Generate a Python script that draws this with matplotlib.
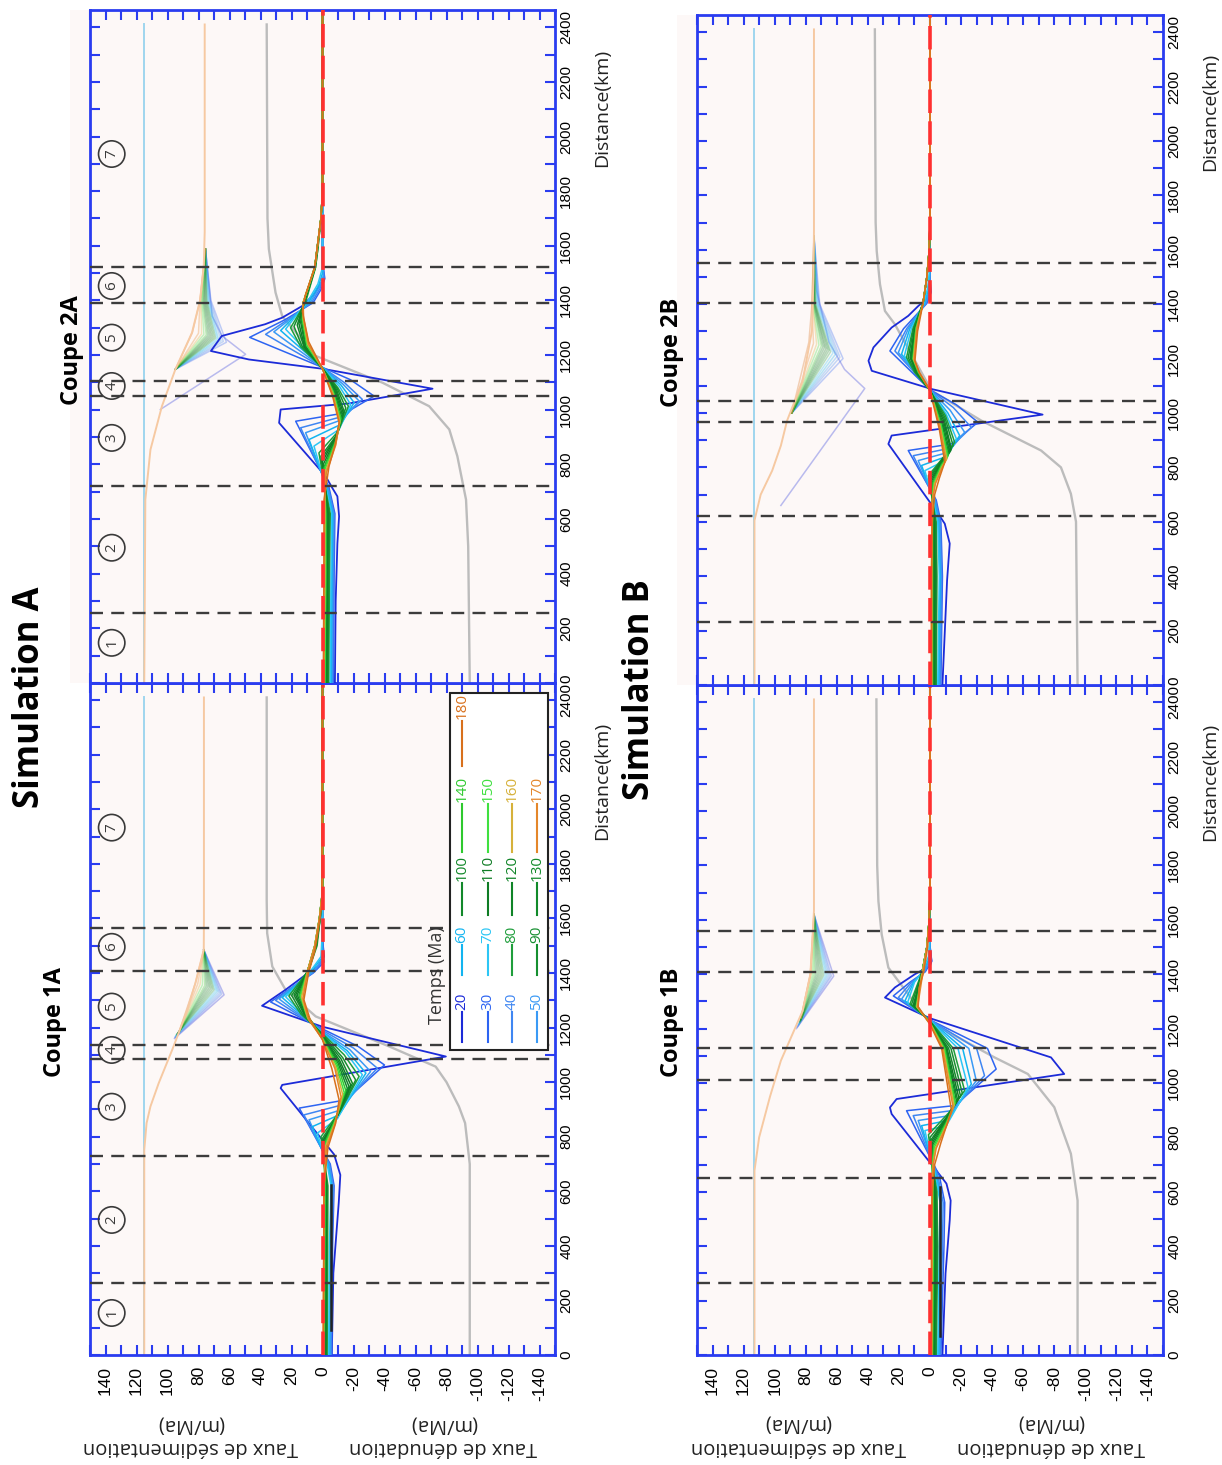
"""
Denudation / sedimentation rate profiles along four cross-sections
(Simulations A and B). Each panel is drawn turned a quarter turn:
distance runs up the page, the rate runs from +150 (left) to -150 (right).
"""
import matplotlib.pyplot as plt
import matplotlib.transforms as mtransforms
from matplotlib.lines import Line2D
from matplotlib.patches import Rectangle

plt.rcParams['font.family'] = ['Open Sans', 'DejaVu Sans']

W, H = 1222, 1465

times = [20, 30, 40, 50, 60, 70, 80, 90, 100, 110, 120, 130, 140, 150, 160, 170, 180]
time_colors = ['#1c2bd8', '#2d64f2', '#3f86f2', '#3a9af5', '#12b4f0', '#2cc6f5',
               '#1f9e3c', '#168f30', '#12882a', '#0e7c24', '#0f8427', '#118a2a',
               '#2ec92e', '#3fe03f', '#d6b13a', '#e4862a', '#d8701c']

# ---------------------------------------------------------------- Coupe 1A
cuts_1A = [264, 730, 1085, 1137, 1408, 1566]
zones_1A = [154, 495, 910, 1118, 1277, 1496, 1933]
sed_line_1A = [(0, 115), (2410, 115)]
peach_1A = [(0, 115), (752, 115), (850, 113.5), (911, 111), (996, 105.7), (1118, 97),
            (1180, 92.8), (1270, 87), (1363, 82), (1485, 76.6), (1600, 76.5), (2410, 76.5)]
gray_1A = [(0, -95), (700, -95), (850, -92), (911, -88), (1000, -80), (1057, -73),
           (1131, -43), (1241, 4.4), (1338, 23.8), (1424, 32.4), (1546, 35.7),
           (1668, 36), (2410, 36)]
black_1A = [(92, -5.3), (623, -5.3)]
fan_1A = [
    [(1160, 95.5), (1320, 63.5), (1485, 76.6)],
    [(1163, 95.2), (1323, 65), (1485, 76.6)],
    [(1165, 95), (1326, 66), (1485, 76.6)],
    [(1167, 94.9), (1329, 67), (1485, 76.6)],
    [(1169, 94.7), (1332, 68), (1485, 76.6)],
    [(1171, 94.5), (1335, 69), (1485, 76.6)],
    [(1173, 94.2), (1338, 70), (1485, 76.6)],
    [(1175, 94), (1341, 71), (1485, 76.6)],
    [(1177, 93.8), (1344, 72), (1485, 76.6)],
    [(1178, 93.5), (1347, 73), (1485, 76.6)],
    [(1180, 93.2), (1350, 74), (1485, 76.6)],
    [(1180, 93), (1352, 75), (1485, 76.6)],
    [(1180, 92.8), (1354, 76), (1485, 76.6)],
    [(1180, 92.8), (1356, 77.5), (1485, 76.6)],
    [(1180, 92.8), (1358, 79), (1485, 76.6)],
    [(1180, 92.8), (1360, 80.5), (1485, 76.6)],
    [(1180, 92.8), (1363, 82), (1485, 76.6)],
]
rates_1A = [
    [(0, -6), (300, -7), (560, -10.5), (660, -11.5), (735, -7.5), (978, 27), (990, 26),
     (1094, -79.6), (1203, 0), (1280, 39), (1338, 24), (1393, 11), (1424, 3), (1460, -1),
     (1520, 0), (2465, 0)],
    [(0, -6), (400, -6.5), (620, -7.5), (700, -5), (905, 15), (935, -15), (1063, -40),
     (1131, -23), (1195, 0), (1294, 33.5), (1350, 19), (1400, 6), (1440, -1), (1520, 0), (2465, 0)],
    [(0, -5.5), (400, -6), (620, -7), (700, -4.5), (880, 12), (917, -12.8), (1051, -35.4),
     (1125, -20), (1190, 0), (1300, 30.3), (1355, 18), (1400, 6.5), (1445, -0.5), (1530, 0), (2465, 0)],
    [(0, -5), (400, -5.5), (620, -6.5), (700, -4), (862, 8.7), (898, -11.7), (1039, -31),
     (1120, -17.5), (1185, 0), (1305, 28), (1358, 17), (1400, 7), (1450, 0), (1540, 0), (2465, 0)],
    [(0, -4.5), (400, -5), (620, -6), (700, -3.5), (837, 6.6), (880, -10.7), (1033, -28),
     (1115, -16), (1182, 0), (1310, 26), (1360, 16), (1405, 7.5), (1455, 0.5), (1550, 0), (2465, 0)],
    [(0, -4), (400, -4.5), (620, -5.5), (700, -3), (813, 3.4), (866, -9.6), (1027, -25.7),
     (1110, -15), (1180, 0), (1313, 23.8), (1362, 15), (1405, 8), (1460, 1), (1560, 0), (2465, 0)],
    [(0, -3), (620, -3.5), (800, 1), (900, -12), (1021, -23.6), (1100, -14), (1178, 0),
     (1250, 14), (1316, 21.7), (1410, 9), (1500, 3.5), (1600, 1.5), (1700, 0), (2465, 0)],
    [(0, -2.5), (620, -3), (790, 0.5), (890, -11), (1008, -21.4), (1090, -13), (1175, 0),
     (1250, 13), (1318, 19.9), (1410, 9), (1500, 4), (1600, 1.5), (1700, 0), (2465, 0)],
    [(0, -2), (620, -2.5), (785, 0), (880, -10), (996, -19.3), (1085, -12), (1172, 0),
     (1250, 12), (1320, 18.4), (1410, 9), (1500, 4), (1600, 1.5), (1700, 0), (2465, 0)],
    [(0, -2), (620, -2.5), (780, 0), (875, -9.5), (990, -18.2), (1080, -11), (1170, 0),
     (1250, 11.5), (1320, 17.3), (1410, 9.5), (1500, 4.5), (1600, 2), (1700, 0), (2465, 0)],
    [(0, -1.5), (620, -2), (775, -0.5), (870, -9), (984, -17.1), (1075, -10.5), (1168, 0),
     (1250, 11), (1320, 16.3), (1410, 9.5), (1500, 4.5), (1600, 2), (1700, 0), (2465, 0)],
    [(0, -1.5), (620, -2), (770, -0.5), (865, -8.5), (978, -16), (1070, -10), (1165, 0),
     (1250, 10.5), (1320, 15.2), (1410, 9.5), (1500, 5), (1600, 2), (1700, 0), (2465, 0)],
    [(0, -1), (620, -1.5), (770, -1), (860, -8), (970, -15), (1065, -9.5), (1163, 0),
     (1245, 10), (1318, 14.7), (1410, 9.5), (1500, 5), (1600, 2), (1700, 0), (2465, 0)],
    [(0, -1), (620, -1.5), (765, -1.5), (855, -8), (962, -14), (1060, -9), (1160, 0),
     (1240, 10), (1315, 14.1), (1410, 9.5), (1500, 5), (1600, 2), (1700, 0), (2465, 0)],
    [(0, -0.5), (620, -1), (765, -2), (850, -8), (955, -13), (1055, -8.5), (1158, 0),
     (1235, 9.5), (1312, 13.5), (1410, 9.5), (1500, 5), (1600, 2), (1700, 0), (2465, 0)],
    [(0, -0.5), (620, -1), (760, -2.5), (845, -8), (945, -12), (1050, -8), (1157, 0),
     (1230, 9), (1308, 12.6), (1410, 9.5), (1500, 5), (1600, 2), (1700, 0), (2465, 0)],
    [(0, -0.5), (620, -1), (760, -3.5), (850, -8.5), (935, -10.7), (1050, -6), (1155, 0),
     (1230, 8), (1302, 12), (1400, 9), (1480, 5), (1547, 3), (1650, 0.5), (2465, 0)],
]

# ---------------------------------------------------------------- Coupe 2A
cuts_2A = [257, 720, 1052, 1105, 1392, 1521]
zones_2A = [147, 495, 897, 1087, 1264, 1453, 1936]
sed_line_2A = [(0, 115), (2410, 115)]
peach_2A = [(0, 115), (671, 114.3), (854, 111), (1013, 103.6), (1148, 94.9), (1282, 84.2),
            (1400, 79), (1527, 76.6), (1650, 76), (2410, 76)]
gray_2A = [(0, -95), (500, -94), (671, -92.6), (830, -87), (928, -81.8), (1013, -68.8),
           (1099, -38.7), (1197, 4.4), (1343, 26), (1429, 30.3), (1588, 34.6),
           (1700, 35.5), (2410, 36)]
black_2A = []
fan_2A = [
    [(1001, 104.6), (1203, 49.6), (1270, 64.8), (1343, 71.2), (1588, 75.5)],
    [(1148, 94.9), (1247, 62), (1400, 72), (1588, 75.5)],
    [(1148, 94.9), (1250, 64), (1400, 72.5), (1588, 75.5)],
    [(1148, 94.9), (1253, 65.5), (1400, 73), (1588, 75.5)],
    [(1148, 94.9), (1256, 67), (1400, 73.5), (1588, 75.5)],
    [(1148, 94.9), (1259, 68), (1400, 74), (1588, 75.5)],
    [(1148, 94.9), (1262, 69), (1400, 74.5), (1588, 75.5)],
    [(1148, 94.9), (1264, 70), (1400, 75), (1588, 75.5)],
    [(1148, 94.9), (1266, 71), (1400, 75.5), (1588, 75.5)],
    [(1148, 94.9), (1268, 72), (1400, 76), (1588, 75.5)],
    [(1148, 94.9), (1270, 73), (1400, 76.5), (1588, 75.5)],
    [(1148, 94.9), (1272, 74), (1400, 77), (1588, 75.5)],
    [(1148, 94.9), (1274, 75), (1400, 77.5), (1588, 75.5)],
    [(1148, 94.9), (1276, 76.5), (1400, 78), (1588, 75.5)],
    [(1148, 94.9), (1278, 78), (1400, 78.5), (1588, 75.5)],
    [(1148, 94.9), (1280, 80), (1400, 79), (1588, 75.5)],
    [(1148, 94.9), (1282, 84), (1400, 79), (1588, 75.5)],
]
rates_2A = [
    [(0, -8), (300, -8.5), (510, -9.6), (610, -10.7), (683, -9.6), (714, -6.3), (757, -2),
     (952, 28), (1001, 27), (1023, -17), (1077, -71), (1150, 0), (1184, 47.5), (1215, 72),
     (1270, 65), (1313, 37), (1337, 26), (1380, 13), (1423, 5.5), (1453, 2), (1480, -1),
     (1540, 0), (2465, 0)],
    [(0, -7), (400, -7.5), (620, -8), (720, -4), (958, 17.3), (989, -15), (1050, -33.3),
     (1110, -18), (1155, 0), (1265, 47), (1330, 24), (1392, 6), (1440, 1), (1480, -1.5),
     (1540, 0), (2465, 0)],
    [(0, -6.5), (400, -7), (620, -7.5), (720, -3.5), (934, 14.1), (977, -13.9), (1038, -25.7),
     (1100, -14), (1155, 0), (1276, 36.7), (1335, 21), (1392, 7), (1445, 1.5), (1485, -1),
     (1545, 0), (2465, 0)],
    [(0, -6), (400, -6.5), (620, -7), (720, -3), (916, 10.9), (964, -12.8), (1032, -23.6),
     (1095, -13), (1155, 0), (1285, 31.4), (1340, 19), (1392, 8), (1450, 2), (1490, -0.5),
     (1550, 0), (2465, 0)],
    [(0, -5.5), (400, -6), (620, -6.5), (720, -2.5), (891, 8.7), (946, -11.7), (1026, -20.4),
     (1090, -12), (1155, 0), (1290, 27), (1342, 18), (1392, 9), (1455, 2.5), (1500, 0),
     (1560, 0), (2465, 0)],
    [(0, -5), (400, -5.5), (620, -6), (720, -2), (867, 5.5), (928, -10.7), (1019, -18.2),
     (1085, -11), (1153, 0), (1295, 23.8), (1345, 17), (1392, 10), (1460, 3), (1510, 0.5),
     (1570, 0), (2465, 0)],
    [(0, -4), (400, -4.5), (620, -5), (720, -1.5), (842, 2.3), (920, -10), (1013, -16.7),
     (1080, -10), (1152, 0), (1230, 14), (1300, 20.6), (1392, 11), (1521, 4.5), (1589, 3),
     (1700, 1), (1800, 0), (2465, 0)],
    [(0, -3.5), (400, -4), (620, -4.5), (720, -1.5), (830, 1), (910, -9.5), (1007, -15),
     (1078, -9.5), (1152, 0), (1230, 13), (1305, 18.4), (1392, 11.5), (1521, 4.5), (1589, 3),
     (1700, 1), (1800, 0), (2465, 0)],
    [(0, -3), (400, -3.5), (620, -4), (720, -1.5), (820, 0.5), (905, -9), (995, -13.9),
     (1075, -9), (1151, 0), (1230, 12), (1310, 16.3), (1392, 12), (1521, 5), (1589, 3.5),
     (1700, 1), (1800, 0), (2465, 0)],
    [(0, -2.5), (400, -3), (620, -3.5), (720, -1.5), (810, 0), (900, -8.5), (990, -13.3),
     (1072, -8.5), (1151, 0), (1230, 11.5), (1315, 15.2), (1392, 12), (1521, 5), (1589, 3.5),
     (1700, 1), (1800, 0), (2465, 0)],
    [(0, -2), (400, -2.5), (620, -3), (720, -1.5), (800, -0.5), (895, -8.5), (983, -12.8),
     (1070, -8), (1150, 0), (1230, 11), (1320, 14.1), (1392, 12.2), (1521, 5), (1589, 3.5),
     (1700, 1), (1800, 0), (2465, 0)],
    [(0, -2), (400, -2.5), (620, -2.5), (720, -1.5), (790, -1), (890, -8.5), (975, -12.3),
     (1068, -7.5), (1150, 0), (1230, 10.5), (1325, 13.5), (1392, 12.3), (1521, 5), (1589, 3.5),
     (1700, 1), (1800, 0), (2465, 0)],
    [(0, -1.5), (400, -2), (620, -2), (720, -1.5), (785, -1), (885, -8.5), (968, -11.9),
     (1065, -7), (1150, 0), (1235, 10), (1328, 13), (1392, 12.5), (1521, 5), (1589, 3.5),
     (1700, 1), (1800, 0), (2465, 0)],
    [(0, -1.5), (400, -2), (620, -2), (720, -1.5), (780, -1.5), (880, -8.5), (962, -11.5),
     (1062, -7), (1150, 0), (1235, 10), (1330, 12.7), (1392, 12.5), (1521, 5), (1589, 3.5),
     (1700, 1), (1800, 0), (2465, 0)],
    [(0, -1), (400, -1.5), (620, -1.5), (720, -1.5), (775, -2), (875, -8.5), (958, -11.2),
     (1058, -6.8), (1150, 0), (1240, 9.5), (1333, 12.4), (1392, 12.5), (1521, 5), (1589, 3.5),
     (1700, 1), (1800, 0), (2465, 0)],
    [(0, -1), (400, -1), (620, -1.2), (720, -1.5), (770, -2.5), (870, -8.5), (955, -11),
     (1055, -6.6), (1150, 0), (1240, 9), (1335, 12.2), (1392, 12.5), (1521, 5), (1589, 3.5),
     (1700, 1), (1800, 0), (2465, 0)],
    [(0, -0.5), (500, -1), (671, -1), (793, -4.2), (870, -8), (952, -10.7), (1050, -6.5),
     (1150, 0), (1250, 9), (1360, 13), (1420, 11), (1521, 5), (1589, 3.5), (1700, 1),
     (1800, 0), (2465, 0)],
]

# ---------------------------------------------------------------- Coupe 2B
cuts_2B = [231, 621, 968, 1043, 1403, 1550]
zones_2B = []
sed_line_2B = [(0, 113), (2410, 113)]
peach_2B = [(0, 113), (605, 113), (700, 109), (788, 101.6), (880, 96), (972, 92),
            (1118, 82), (1302, 76), (1500, 75), (1668, 74.7), (2410, 74.7)]
gray_2B = [(0, -95), (600, -94), (703, -90.7), (800, -84.3), (862, -71.5), (972, -33),
           (1082, -1), (1326, 22.6), (1375, 29), (1473, 32.2), (1595, 34.3), (1700, 35),
           (2410, 35.5)]
black_2B = []
fan_2B = [
    [(660, 96), (1090, 42), (1160, 55), (1260, 65), (1450, 73), (1650, 74.7)],
    [(1000, 89), (1200, 56), (1400, 71), (1650, 74.7)],
    [(1000, 89), (1205, 58), (1400, 71.5), (1650, 74.7)],
    [(1000, 89), (1210, 59.5), (1400, 72), (1650, 74.7)],
    [(1000, 89), (1215, 61), (1400, 72.5), (1650, 74.7)],
    [(1000, 89), (1220, 62.5), (1400, 73), (1650, 74.7)],
    [(1000, 89), (1225, 64), (1400, 73.5), (1650, 74.7)],
    [(1000, 89), (1230, 65), (1400, 74), (1650, 74.7)],
    [(1000, 89), (1233, 66), (1400, 74), (1650, 74.7)],
    [(1000, 89), (1236, 67), (1400, 74.5), (1650, 74.7)],
    [(1000, 89), (1240, 68), (1400, 74.5), (1650, 74.7)],
    [(1000, 89), (1243, 69), (1400, 75), (1650, 74.7)],
    [(1000, 89), (1246, 70), (1400, 75), (1650, 74.7)],
    [(1000, 89), (1250, 71.5), (1400, 75.5), (1650, 74.7)],
    [(1000, 89), (1253, 73), (1400, 75.5), (1650, 74.7)],
    [(1000, 89), (1256, 75), (1400, 76), (1650, 74.7)],
    [(1000, 89), (1260, 78), (1400, 76), (1650, 74.7)],
]
rates_2B = [
    [(0, -8), (385, -11), (520, -12.7), (593, -9.5), (630, -5.2), (886, 26.8), (917, 24.7),
     (994, -72.5), (1088, -1), (1155, 37.5), (1192, 39.6), (1241, 36.4), (1314, 24.7),
     (1357, 14), (1393, 7.6), (1424, 1.2), (1445, -0.5), (1480, 0), (2465, 0)],
    [(0, -7), (400, -8), (600, -7), (680, -4), (862, 14), (886, -13.8), (966, -30.9),
     (1030, -17), (1085, 0), (1228, 25.8), (1310, 17), (1403, 2), (1440, -0.5), (1500, 0), (2465, 0)],
    [(0, -6.5), (400, -7.5), (600, -6.5), (680, -3.5), (843, 10.8), (870, -12.5), (947, -26.6),
     (1020, -15), (1085, 0), (1228, 22.6), (1310, 15), (1403, 2.5), (1445, 0), (1510, 0), (2465, 0)],
    [(0, -6), (400, -7), (600, -6), (680, -3), (825, 7.6), (855, -11.5), (929, -22.3),
     (1010, -13), (1085, 0), (1222, 20.4), (1310, 14), (1403, 3), (1450, 0.5), (1520, 0), (2465, 0)],
    [(0, -5.5), (400, -6.5), (600, -5.5), (680, -2.5), (807, 5.4), (840, -10.5), (917, -19.1),
     (1000, -11.5), (1085, 0), (1216, 18.3), (1310, 13), (1403, 3.5), (1455, 1), (1530, 0), (2465, 0)],
    [(0, -5), (400, -6), (600, -5), (680, -2), (788, 3.3), (825, -9.5), (905, -17),
     (995, -10.5), (1085, 0), (1210, 16.5), (1310, 12), (1403, 4), (1460, 1.5), (1540, 0), (2465, 0)],
    [(0, -4), (400, -4.5), (600, -4), (680, -1.5), (770, 1), (840, -9), (892, -15.9),
     (990, -10), (1083, 0), (1150, 10), (1204, 15.1), (1310, 11), (1403, 4.5), (1500, 2),
     (1600, 0.5), (1700, 0), (2465, 0)],
    [(0, -3.5), (400, -4), (600, -3.5), (680, -1.5), (765, 0.5), (835, -8.5), (880, -14.9),
     (985, -9.5), (1083, 0), (1150, 9.5), (1204, 14), (1310, 10.5), (1403, 4.5), (1500, 2),
     (1600, 0.5), (1700, 0), (2465, 0)],
    [(0, -3), (400, -3.5), (600, -3), (680, -1.5), (760, 0), (830, -8), (868, -13.8),
     (980, -9), (1083, 0), (1150, 9), (1204, 12.9), (1310, 10), (1403, 4.5), (1500, 2),
     (1600, 0.5), (1700, 0), (2465, 0)],
    [(0, -2.5), (400, -3), (600, -2.5), (680, -1.5), (755, -0.5), (825, -8), (862, -13.4),
     (975, -8.5), (1083, 0), (1150, 8.5), (1204, 12.3), (1310, 9.5), (1403, 4.5), (1500, 2),
     (1600, 0.5), (1700, 0), (2465, 0)],
    [(0, -2), (400, -2.5), (600, -2), (680, -1.5), (750, -1), (820, -7.5), (856, -12.7),
     (970, -8), (1083, 0), (1150, 8), (1204, 11.9), (1310, 9.5), (1403, 4.5), (1500, 2),
     (1600, 0.5), (1700, 0), (2465, 0)],
    [(0, -2), (400, -2), (600, -2), (680, -1.5), (745, -1.5), (815, -7.5), (850, -12.1),
     (965, -7.5), (1083, 0), (1150, 8), (1204, 11.4), (1310, 9), (1403, 4.5), (1500, 2),
     (1600, 0.5), (1700, 0), (2465, 0)],
    [(0, -1.5), (400, -1.5), (600, -1.5), (680, -1.5), (745, -2), (810, -7.5), (843, -11.7),
     (960, -7), (1083, 0), (1150, 7.5), (1200, 11), (1310, 9), (1403, 4.5), (1500, 2),
     (1600, 0.5), (1700, 0), (2465, 0)],
    [(0, -1.5), (400, -1.5), (600, -1.5), (680, -1.5), (740, -2.5), (805, -7.5), (837, -11.2),
     (955, -7), (1083, 0), (1150, 7.5), (1200, 10.8), (1310, 9), (1403, 4.5), (1500, 2),
     (1600, 0.5), (1700, 0), (2465, 0)],
    [(0, -1), (400, -1), (600, -1.2), (680, -1.5), (740, -3), (800, -7.5), (831, -10.8),
     (950, -6.5), (1083, 0), (1150, 7), (1198, 10.6), (1310, 8.5), (1403, 4.5), (1500, 2),
     (1600, 0.5), (1700, 0), (2465, 0)],
    [(0, -1), (400, -1), (600, -1.2), (680, -1.5), (740, -3.5), (795, -7.5), (825, -10.1),
     (945, -6.5), (1083, 0), (1150, 7), (1195, 10.1), (1310, 8.5), (1403, 4.5), (1500, 2),
     (1600, 0.5), (1700, 0), (2465, 0)],
    [(0, -1), (400, -1), (600, -1.5), (700, -3), (760, -6), (819, -9.5), (940, -6),
     (1082, 0), (1150, 7), (1192, 9.7), (1300, 8), (1403, 4.5), (1500, 2), (1600, 0.5),
     (1700, 0), (2465, 0)],
]

# ---------------------------------------------------------------- Coupe 1B
cuts_1B = [264, 652, 1011, 1127, 1409, 1558]
zones_1B = []
sed_line_1B = [(0, 113), (2410, 113)]
peach_1B = [(0, 113), (678, 113), (800, 110), (950, 103), (1082, 96), (1265, 82),
            (1400, 77), (1632, 74.7), (2410, 74.7)]
gray_1B = [(0, -95), (568, -95), (740, -90.7), (911, -80), (1033, -63), (1094, -41.5),
           (1228, 1.2), (1424, 26.8), (1546, 31.1), (1668, 33.2), (1800, 34), (2410, 34.5)]
black_1B = [(70, -6.7), (617, -6.7)]
fan_1B = [
    [(1200, 86), (1393, 62), (1620, 74.7)],
    [(1205, 85.5), (1393, 63.5), (1620, 74.7)],
    [(1210, 85), (1393, 64.5), (1620, 74.7)],
    [(1213, 84.8), (1394, 65.5), (1620, 74.7)],
    [(1216, 84.5), (1395, 66.5), (1620, 74.7)],
    [(1219, 84.3), (1396, 67.5), (1620, 74.7)],
    [(1222, 84), (1397, 68.5), (1620, 74.7)],
    [(1225, 83.8), (1398, 69.5), (1620, 74.7)],
    [(1228, 83.6), (1399, 70.5), (1620, 74.7)],
    [(1230, 83.4), (1400, 71.5), (1620, 74.7)],
    [(1232, 83.2), (1400, 72.5), (1620, 74.7)],
    [(1234, 83), (1400, 73.5), (1620, 74.7)],
    [(1236, 83), (1400, 74.5), (1620, 74.7)],
    [(1238, 83), (1400, 75.5), (1620, 74.7)],
    [(1240, 83), (1400, 76.5), (1620, 74.7)],
    [(1240, 83), (1400, 77), (1620, 74.7)],
    [(1240, 83), (1400, 77), (1620, 74.7)],
]
rates_1B = [
    [(0, -8), (300, -10), (495, -12.7), (568, -13.3), (630, -10.6), (654, -7.4), (886, 24.7),
     (910, 25.8), (941, 21.5), (1033, -86.4), (1094, -77.9), (1238, 0), (1314, 29),
     (1351, 22.6), (1400, 9.7), (1430, 0), (1448, -1), (1500, 0), (2465, 0)],
    [(0, -7), (400, -9), (560, -9.5), (660, -6), (898, 15.1), (917, -16), (1051, -42.6),
     (1127, -37), (1232, 0), (1320, 23.6), (1370, 13), (1409, 3), (1448, -1), (1500, 0), (2465, 0)],
    [(0, -6.5), (400, -8), (560, -8.5), (660, -5), (880, 10.8), (898, -13.8), (1027, -35.1),
     (1127, -30), (1232, 0), (1314, 20.4), (1370, 12), (1409, 3.5), (1450, -0.5), (1510, 0), (2465, 0)],
    [(0, -6), (400, -7), (560, -7.5), (660, -4.5), (862, 7.6), (880, -12.6), (1008, -29.8),
     (1127, -25), (1232, 0), (1308, 18.3), (1370, 11), (1409, 4), (1455, 0), (1520, 0), (2465, 0)],
    [(0, -5.5), (400, -6.5), (560, -7), (660, -4), (843, 5.4), (862, -11.5), (996, -26.6),
     (1127, -21), (1231, 0), (1302, 16.1), (1370, 10.5), (1409, 4.5), (1460, 0.5), (1530, 0), (2465, 0)],
    [(0, -5), (400, -6), (560, -6.5), (660, -3.5), (825, 3.3), (843, -10.5), (984, -24.5),
     (1127, -18), (1230, 0), (1296, 14.4), (1370, 10), (1409, 5), (1465, 1), (1540, 0), (2465, 0)],
    [(0, -4), (400, -5), (600, -4.5), (700, -1.5), (810, 1), (890, -12), (972, -22.3),
     (1127, -15), (1228, 0), (1290, 12.9), (1409, 5), (1500, 2), (1600, 0.5), (1700, 0), (2465, 0)],
    [(0, -3.5), (400, -4.5), (600, -4), (700, -1.5), (800, 0), (880, -11.5), (962, -20.8),
     (1127, -13.5), (1227, 0), (1288, 11.9), (1409, 5), (1500, 2), (1600, 0.5), (1700, 0), (2465, 0)],
    [(0, -3), (400, -4), (600, -3.5), (700, -1.5), (790, -0.5), (875, -11), (953, -19.6),
     (1127, -12), (1226, 0), (1286, 10.8), (1409, 5), (1500, 2), (1600, 0.5), (1700, 0), (2465, 0)],
    [(0, -2.5), (400, -3.5), (600, -3), (700, -1.5), (785, -1), (870, -10.5), (947, -18.5),
     (1127, -11), (1225, 0), (1285, 10.1), (1409, 5), (1500, 2), (1600, 0.5), (1700, 0), (2465, 0)],
    [(0, -2), (400, -3), (600, -2.5), (700, -1.5), (780, -1.5), (865, -10.5), (941, -17.6),
     (1127, -10.5), (1224, 0), (1284, 9.7), (1409, 5), (1500, 2), (1600, 0.5), (1700, 0), (2465, 0)],
    [(0, -2), (400, -2.5), (600, -2), (700, -1.5), (775, -2), (860, -10.5), (935, -17),
     (1127, -10), (1223, 0), (1283, 9.3), (1409, 5), (1500, 2), (1600, 0.5), (1700, 0), (2465, 0)],
    [(0, -1.5), (400, -2), (600, -2), (700, -1.5), (770, -2.5), (855, -10.5), (929, -16.3),
     (1127, -9.5), (1222, 0), (1282, 8.8), (1409, 5), (1500, 2), (1600, 0.5), (1700, 0), (2465, 0)],
    [(0, -1.5), (400, -2), (600, -1.5), (700, -1.5), (765, -3), (850, -10.5), (923, -15.9),
     (1127, -9), (1221, 0), (1281, 8.7), (1409, 5), (1500, 2), (1600, 0.5), (1700, 0), (2465, 0)],
    [(0, -1), (400, -1.5), (600, -1.5), (700, -2), (760, -3.5), (845, -10.5), (917, -15.5),
     (1127, -8.5), (1220, 0), (1280, 8.5), (1409, 5), (1500, 2), (1600, 0.5), (1700, 0), (2465, 0)],
    [(0, -1), (400, -1), (600, -1.2), (700, -2), (760, -4), (840, -10.5), (910, -14.9),
     (1127, -8), (1218, 0), (1280, 8), (1409, 4.5), (1500, 2), (1600, 0.5), (1700, 0), (2465, 0)],
    [(0, -1), (400, -1), (600, -1.5), (700, -3), (780, -7), (898, -13.8), (1000, -11),
     (1127, -7.5), (1215, 0), (1280, 7.6), (1350, 7), (1409, 4), (1500, 1.5), (1600, 0.5),
     (1700, 0), (2465, 0)],
]

value_ticks = list(range(-140, 141, 20))
value_minor = list(range(-150, 151, 10))
distance_ticks = list(range(0, 2401, 200))
distance_minor = list(range(100, 2401, 200))

AXIS_BLUE = '#2a3cf0'
PINK = '#fdf8f7'
TICK_FONT = ['Liberation Sans', 'DejaVu Sans']


def fx(x):
    return x / W


def fy(y):
    return 1 - y / H


def rect(left, top, right, bottom):
    return [fx(left), fy(bottom), (right - left) / W, (bottom - top) / H]


def xy(points):
    d = [p[0] for p in points]
    v = [p[1] for p in points]
    return v, d


def draw_panel(ax, rates, fan, peach, gray, sed_line, black, cuts, zones, bottom_labels):
    ax.set_facecolor(PINK)
    ax.plot(*xy(sed_line), color='#9fd6ee', lw=1.4, zorder=2)
    for k, row in enumerate(fan):
        ax.plot(*xy(row), color=time_colors[k], alpha=0.3, lw=1.1, zorder=2)
    ax.plot(*xy(peach), color='#f6c9a2', lw=1.4, zorder=2)
    ax.plot(*xy(gray), color='#bcbcbc', lw=1.7, zorder=2)
    for k, row in enumerate(rates):
        ax.plot(*xy(row), color=time_colors[k], lw=1.3 if k == 0 else 1.1, zorder=3)
    if black:
        ax.plot(*xy(black), color='#222222', lw=1.8, zorder=3.5)
    for d in cuts:
        ax.axhline(d, color='#3c3c3c', lw=1.7, dashes=(5.5, 3.5), zorder=4)
    ax.axvline(0, color='#ff3030', lw=2.6, dashes=(6.5, 2.3), zorder=5)
    if zones:
        ax.scatter([136] * len(zones), zones, s=360, facecolors='none',
                   edgecolors='#3a3a3a', linewidths=1.2, zorder=4)
        for i, d in enumerate(zones):
            ax.text(136, d, str(i + 1), rotation=90, ha='center', va='center',
                    fontsize=11, color='#3a3a3a', zorder=4)

    ax.set_xlim(150, -150)
    ax.set_ylim(0, 2463)
    for s in ax.spines.values():
        s.set_color(AXIS_BLUE)
        s.set_linewidth(2)
    ax.set_xticks(value_ticks)
    ax.set_xticks(value_minor, minor=True)
    ax.set_yticks(distance_ticks)
    ax.set_yticks(distance_minor, minor=True)
    ax.tick_params(axis='both', which='both', direction='in', length=7, width=1.5,
                   color=AXIS_BLUE, top=True, bottom=True, left=True, right=True)
    ax.tick_params(axis='y', which='major', labelleft=False, labelright=True,
                   labelsize=11, labelrotation=90, pad=3)
    ax.set_yticklabels([str(t) for t in distance_ticks], family=TICK_FONT)
    ylabels = ax.get_yticklabels()
    for lab in ylabels:
        lab.set_va('center')
    if not bottom_labels:
        # upper panels: push the "0" up so it sits next to the "2400" below it
        ylabels[0].set_va('bottom')
    if bottom_labels:
        ax.set_xticklabels([str(t) for t in value_ticks], family=TICK_FONT)
        ax.tick_params(axis='x', which='major', labelsize=12.5, labelrotation=90, pad=8)
        tr = mtransforms.blended_transform_factory(ax.transData, ax.transAxes)
        ax.text(85, -0.12, 'Taux de sédimentation\n(m/Ma)', transform=tr, rotation=180,
                ha='center', va='center', fontsize=14.5, linespacing=1.2, color='#222')
        ax.text(-78, -0.12, 'Taux de dénudation\n(m/Ma)', transform=tr, rotation=180,
                ha='center', va='center', fontsize=14.5, linespacing=1.2, color='#222')
    else:
        ax.set_xticklabels([])
    ax.yaxis.set_label_position('right')
    ax.set_ylabel('Distance(km)', fontsize=14, rotation=90, color='#222')
    ax.yaxis.set_label_coords(1.082, 0.855)


fig = plt.figure(figsize=(W / 100, H / 100), dpi=100)

# pale backing that sticks out to the left of the upper panels
fig.add_artist(Rectangle((fx(70), fy(683)), 20 / W, 673 / H, transform=fig.transFigure,
                         facecolor=PINK, edgecolor='none', zorder=-1))
fig.add_artist(Rectangle((fx(677), fy(685)), 20 / W, 670 / H, transform=fig.transFigure,
                         facecolor=PINK, edgecolor='none', zorder=-1))

ax_1A = fig.add_axes(rect(90, 683, 555, 1355))
ax_2A = fig.add_axes(rect(90, 10, 555, 683))
ax_1B = fig.add_axes(rect(697, 685, 1163, 1355))
ax_2B = fig.add_axes(rect(697, 15, 1163, 685))

draw_panel(ax_2A, rates_2A, fan_2A, peach_2A, gray_2A, sed_line_2A, black_2A, cuts_2A, zones_2A, False)
draw_panel(ax_1A, rates_1A, fan_1A, peach_1A, gray_1A, sed_line_1A, black_1A, cuts_1A, zones_1A, True)
draw_panel(ax_2B, rates_2B, fan_2B, peach_2B, gray_2B, sed_line_2B, black_2B, cuts_2B, zones_2B, False)
draw_panel(ax_1B, rates_1B, fan_1B, peach_1B, gray_1B, sed_line_1B, black_1B, cuts_1B, zones_1B, True)

# titles
fig.text(fx(30), fy(697), 'Simulation A', rotation=90, ha='center', va='center',
         fontsize=25, fontweight='bold')
fig.text(fx(640), fy(690), 'Simulation B', rotation=90, ha='center', va='center',
         fontsize=25, fontweight='bold')
for label, (x, y) in {'Coupe 1A': (55, 1022), 'Coupe 2A': (72, 350),
                      'Coupe 1B': (672, 1022), 'Coupe 2B': (672, 352)}.items():
    fig.text(fx(x), fy(y), label, rotation=90, ha='center', va='center',
             fontsize=17, fontweight='bold')

# legend (drawn by hand, turned like the panels)
fig.add_artist(Rectangle((fx(450), fy(1050)), 98 / W, 357 / H, transform=fig.transFigure,
                         facecolor='white', edgecolor='#222222', lw=1.5, zorder=6))
fig.text(fx(437), fy(975), 'Temps (Ma)', rotation=90, ha='center', va='center',
         fontsize=13, color='#333333', zorder=7)
row_x = [462, 488, 512, 537]
col_start = [1042, 975, 915, 852, 766]
col_len = [30, 30, 32, 48, 45]
for k, t in enumerate(times):
    j, r = divmod(k, 4)
    x, y0 = row_x[r], col_start[j]
    y1 = y0 - col_len[j]
    fig.add_artist(Line2D([fx(x), fx(x)], [fy(y0), fy(y1)], transform=fig.transFigure,
                          color=time_colors[k], lw=1.5, zorder=7))
    fig.text(fx(x), fy(y1 - 2), str(t), rotation=90, ha='center', va='bottom',
             fontsize=11, color=time_colors[k], zorder=7)

fig.savefig('out.png', dpi=100)
